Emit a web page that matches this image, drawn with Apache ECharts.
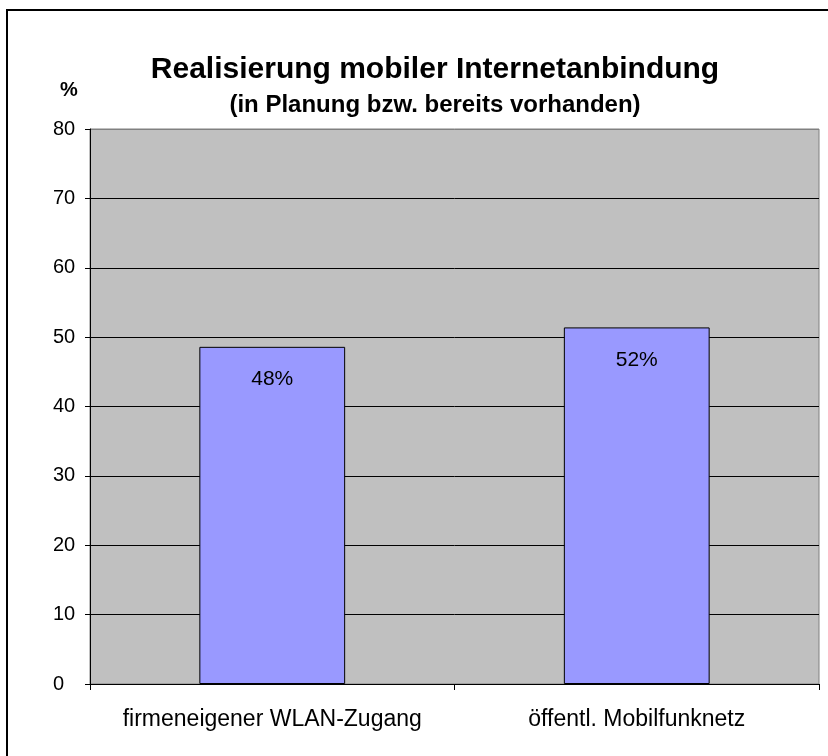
<!DOCTYPE html>
<html>
<head>
<meta charset="utf-8">
<script src="https://cdn.jsdelivr.net/npm/echarts@6/dist/echarts.min.js"></script>
<style>
  html, body { margin: 0; padding: 0; background: #fff; }
  #chart { width: 828px; height: 756px; }
</style>
</head>
<body>
<div id="chart"></div>
<script>
// Daten
const categories = ['firmeneigener WLAN-Zugang', 'öffentl. Mobilfunknetz'];
const values = [48.6, 51.4];
const valueLabels = ['48%', '52%'];
const yTicks = { min: 0, max: 80, interval: 10 };

const chart = echarts.init(document.getElementById('chart'));

chart.setOption({
  animation: false,
  backgroundColor: '#fff',
  textStyle: { fontFamily: 'Arial, "Liberation Sans", sans-serif' },
  title: [
    {
      text: 'Realisierung mobiler Internetanbindung',
      left: 430, top: 50, textAlign: 'center',
      textStyle: { fontSize: 30, fontWeight: 'bold', color: '#000' }
    },
    {
      text: '(in Planung bzw. bereits vorhanden)',
      left: 430, top: 88, textAlign: 'center',
      textStyle: { fontSize: 24, fontWeight: 'bold', color: '#000' }
    },
    {
      text: '%',
      left: 55, top: 75,
      textStyle: { fontSize: 20, fontWeight: 'bold', color: '#000' }
    }
  ],
  grid: {
    left: 90, right: 9, top: 129, bottom: 72,
    show: true,
    backgroundColor: '#c0c0c0',
    borderColor: '#808080',
    borderWidth: 1
  },
  xAxis: {
    type: 'category',
    data: categories,
    axisLine: { lineStyle: { color: '#000', width: 1 } },
    axisTick: { show: true, length: 6, lineStyle: { color: '#000' } },
    axisLabel: { color: '#000', fontSize: 23, margin: 24, interval: 0 }
  },
  yAxis: {
    type: 'value',
    min: yTicks.min, max: yTicks.max, interval: yTicks.interval,
    axisLine: { show: true, lineStyle: { color: '#000', width: 1 } },
    axisTick: { show: true, length: 5, lineStyle: { color: '#000' } },
    axisLabel: { color: '#000', fontSize: 20, margin: 37, align: 'left' },
    splitLine: {
      show: true,
      lineStyle: {
        color: ['#000', '#000', '#000', '#000', '#000', '#000', '#000', '#000', '#808080'],
        width: 1
      }
    }
  },
  series: [{
    type: 'bar',
    data: values,
    barWidth: '40%',
    itemStyle: { color: '#9999ff', borderColor: '#000', borderWidth: 1 },
    label: {
      show: true,
      position: 'insideTop',
      distance: 22,
      fontSize: 21,
      color: '#000',
      formatter: p => valueLabels[p.dataIndex]
    }
  }],
  graphic: [{
    type: 'polyline',
    shape: { points: [[7, 756], [7, 10], [828, 10]] },
    style: { stroke: '#000', lineWidth: 2, fill: null }
  }]
});
</script>
</body>
</html>
